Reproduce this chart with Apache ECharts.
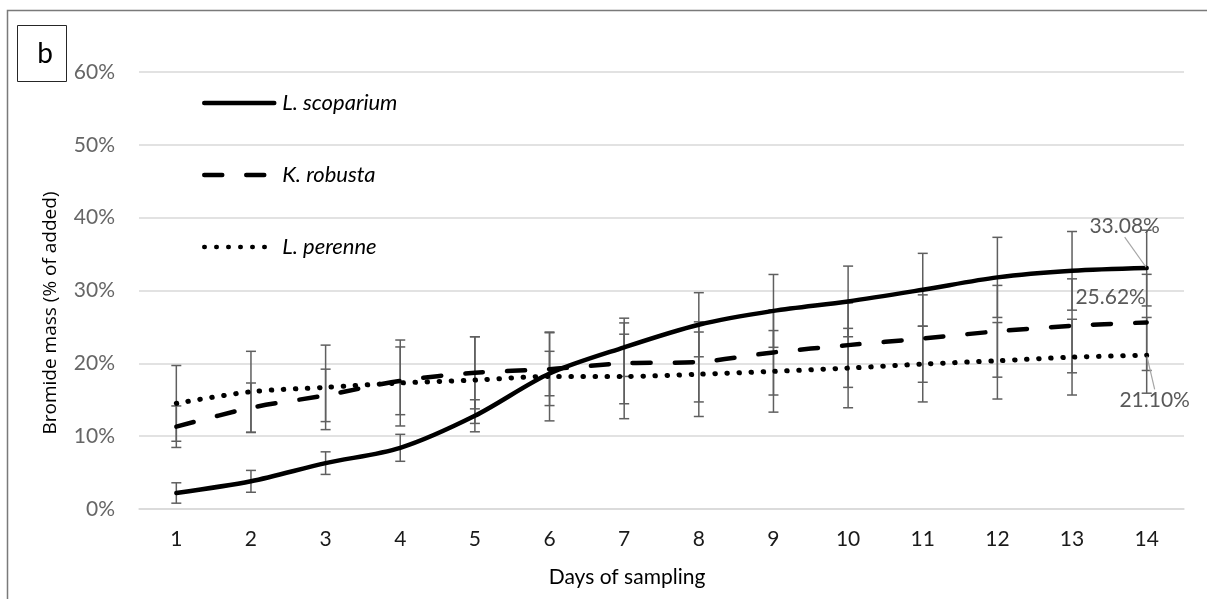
<!DOCTYPE html>
<html>
<head>
<meta charset="utf-8">
<title>Bromide mass</title>
<script src="https://cdn.jsdelivr.net/npm/echarts@6/dist/echarts.min.js"></script>
<style>
  html, body { margin: 0; padding: 0; background: #fff; }
  #chart { width: 1207px; height: 599px; }
</style>
</head>
<body>
<div id="chart"></div>
<script>
// days of sampling
const days = ['1', '2', '3', '4', '5', '6', '7', '8', '9', '10', '11', '12', '13', '14']

// bromide mass, % of added
const scoparium = [2.2, 3.8, 6.3, 8.4, 12.8, 18.6, 22.2, 25.3, 27.2, 28.5, 30.1, 31.8, 32.7, 33.08]
const scopariumErr = [1.4, 1.5, 1.55, 1.85, 2.2, 3.05, 4.0, 4.4, 5.0, 4.85, 5.0, 5.5, 5.4, 5.2]

const robusta = [11.3, 13.9, 15.6, 17.6, 18.7, 19.2, 20.0, 20.2, 21.5, 22.5, 23.4, 24.4, 25.15, 25.62]
const robustaErr = [2.85, 3.4, 3.6, 4.65, 4.95, 5.0, 5.55, 5.5, 5.85, 5.8, 6.0, 6.3, 6.45, 6.6]

const perenne = [14.5, 16.1, 16.7, 17.3, 17.7, 18.2, 18.2, 18.5, 18.9, 19.35, 19.9, 20.35, 20.85, 21.10]
const perenneErr = [5.2, 5.55, 5.8, 5.9, 5.95, 6.1, 5.8, 5.8, 5.6, 5.45, 5.2, 5.25, 5.2, 5.2]

const yTicks = [0, 10, 20, 30, 40, 50, 60]

const FONT = 'Lato'
const ERR_COLOR = '#5f5f5f'

const errData = (vals, errs) => vals.map((v, i) => [i, v - errs[i], v + errs[i]])

// only the last point carries a data label
const withLastLabel = (vals, label) => vals.map((v, i) =>
  i === vals.length - 1
    ? { value: v, symbol: 'circle', symbolSize: 2, label: Object.assign({ show: true }, label) }
    : v
)

const errorBarSeries = (name, vals, errs) => ({
  name: name + ' err',
  type: 'custom',
  z: 1,
  silent: true,
  data: errData(vals, errs),
  encode: { x: 0, y: [1, 2] },
  renderItem: (params, api) => {
    const lo = api.coord([api.value(0), api.value(1)])
    const hi = api.coord([api.value(0), api.value(2)])
    const w = 5
    const style = { stroke: ERR_COLOR, lineWidth: 1.5 }
    return {
      type: 'group',
      children: [
        { type: 'line', shape: { x1: hi[0], y1: hi[1], x2: lo[0], y2: lo[1] }, style },
        { type: 'line', shape: { x1: hi[0] - w, y1: hi[1], x2: hi[0] + w, y2: hi[1] }, style },
        { type: 'line', shape: { x1: lo[0] - w, y1: lo[1], x2: lo[0] + w, y2: lo[1] }, style }
      ]
    }
  }
})

const labelBase = {
  formatter: p => p.value.toFixed(2) + '%',
  color: '#595959',
  fontFamily: FONT,
  fontSize: 21
}

const chart = echarts.init(document.getElementById('chart'))

const option = {
  backgroundColor: '#fff',
  animation: false,
  grid: { left: 139, right: 23, top: 72, bottom: 90 },
  graphic: [
    // outer chart frame (left + top edges visible)
    {
      type: 'polyline',
      shape: { points: [[7.5, 620], [7.5, 10.5], [1210, 10.5]] },
      style: { stroke: '#7a7a7a', lineWidth: 1.5, fill: null }
    },
    // panel tag
    {
      type: 'rect',
      shape: { x: 17.5, y: 25.5, width: 49, height: 56 },
      style: { stroke: '#262626', lineWidth: 1, fill: '#fff' }
    },
    {
      type: 'text',
      x: 45,
      y: 54,
      style: { text: 'b', font: '28px Lato', fill: '#000', align: 'center', verticalAlign: 'middle' }
    },
    // axis titles
    {
      type: 'text',
      x: 51,
      y: 313,
      rotation: Math.PI / 2,
      style: {
        text: 'Bromide mass (% of added)',
        font: '19px "Open Sans"',
        fill: '#000',
        align: 'center',
        verticalAlign: 'middle'
      }
    },
    {
      type: 'text',
      x: 627,
      y: 577,
      style: {
        text: 'Days of sampling',
        font: '21px Lato',
        fill: '#000',
        align: 'center',
        verticalAlign: 'middle'
      }
    }
  ],
  legend: {
    orient: 'vertical',
    left: 197,
    top: 87,
    itemWidth: 70,
    itemHeight: 22,
    itemGap: 50,
    data: ['L. scoparium', 'K. robusta', 'L. perenne'],
    itemStyle: { opacity: 0 },
    lineStyle: { width: 4.5 },
    textStyle: {
      fontFamily: FONT,
      fontStyle: 'italic',
      fontSize: 22,
      color: '#000',
      lineHeight: 22,
      padding: [0, 0, 0, 3]
    }
  },
  xAxis: {
    type: 'category',
    data: days,
    boundaryGap: true,
    axisLine: { show: true, lineStyle: { color: '#d9d9d9', width: 1.5 } },
    axisTick: { show: false },
    axisLabel: { fontFamily: FONT, fontSize: 21, color: '#1a1a1a', margin: 20 }
  },
  yAxis: {
    type: 'value',
    min: yTicks[0],
    max: yTicks[yTicks.length - 1],
    interval: 10,
    axisLine: { show: false },
    axisTick: { show: false },
    axisLabel: {
      fontFamily: FONT,
      fontSize: 21,
      color: '#666',
      margin: 24,
      formatter: v => v + '%'
    },
    splitLine: { lineStyle: { color: '#d9d9d9', width: 1.5 } }
  },
  series: [
    errorBarSeries('L. scoparium', scoparium, scopariumErr),
    errorBarSeries('K. robusta', robusta, robustaErr),
    errorBarSeries('L. perenne', perenne, perenneErr),
    {
      name: 'L. scoparium',
      type: 'line',
      z: 3,
      smooth: 0.3,
      symbol: 'none',
      data: withLastLabel(scoparium, Object.assign({ position: 'top' }, labelBase)),
      lineStyle: { color: '#000', width: 4.5, cap: 'round', join: 'round' },
      itemStyle: { color: '#000' },
      labelLayout: { dx: -22, dy: -25 },
      labelLine: { show: true, lineStyle: { color: '#a6a6a6', width: 1.2 } }
    },
    {
      name: 'K. robusta',
      type: 'line',
      z: 3,
      smooth: 0.3,
      symbol: 'none',
      data: withLastLabel(robusta, Object.assign({ position: 'top' }, labelBase)),
      lineStyle: { color: '#000', width: 4.5, type: [18, 24], cap: 'round' },
      itemStyle: { color: '#000' },
      labelLayout: { dx: -36, dy: -9 },
      labelLine: { show: false }
    },
    {
      name: 'L. perenne',
      type: 'line',
      z: 3,
      smooth: 0.3,
      symbol: 'none',
      data: withLastLabel(perenne, Object.assign({ position: 'bottom' }, labelBase)),
      lineStyle: { color: '#000', width: 5, type: [0.5, 11.5], cap: 'round' },
      itemStyle: { color: '#000' },
      labelLayout: { dx: 8, dy: 28 },
      labelLine: { show: true, lineStyle: { color: '#a6a6a6', width: 1.2 } }
    }
  ]
}

chart.setOption(option)
</script>
</body>
</html>
